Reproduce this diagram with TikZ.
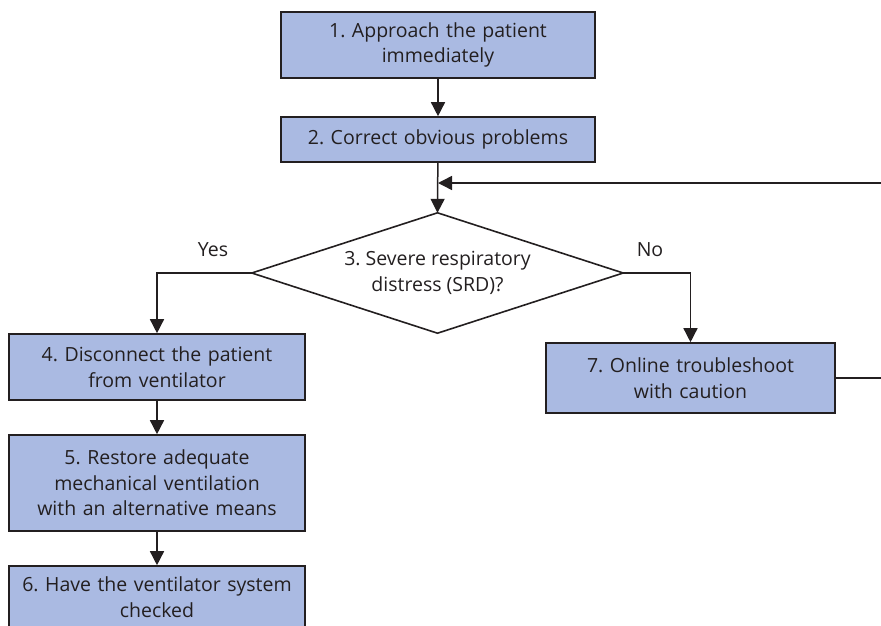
\documentclass[tikz,border=0pt]{standalone}
\usepackage{fontspec}
\setmainfont{Open Sans}
\usetikzlibrary{arrows.meta}
\definecolor{boxfill}{RGB}{170,186,226}
\definecolor{ink}{RGB}{35,31,32}
\frenchspacing
\begin{document}
\begin{tikzpicture}[x=1pt,y=-1pt,
  font=\fontsize{19.5}{25.5}\selectfont\frenchspacing,
  every node/.style={text=ink},
  stepbox/.style={draw=ink, fill=boxfill, line width=1.6pt, align=center, inner sep=0pt},
  conn/.style={draw=ink, line width=1.5pt},
  arr/.style={conn, -{Triangle[length=14pt,width=14pt]}},
  lbl/.style={inner sep=0pt}]
\useasboundingbox (0,0) rectangle (881,626);
\clip (0,0) rectangle (881,626);
\node[stepbox, minimum width=314pt, minimum height=66pt, text width=300pt] (n1) at (438,45) {1. Approach the patient\\immediately};
\node[stepbox, minimum width=314pt, minimum height=45pt, text width=300pt] (n2) at (438,139.5) {2. Correct obvious problems};
\node[inner sep=0pt, minimum width=371pt, minimum height=120pt, align=center] (d) at (437.5,273) {3. Severe respiratory\\distress (SRD)?};
\draw[ink, line width=1.6pt] (d.north) -- (d.east) -- (d.south) -- (d.west) -- cycle;
\node[stepbox, minimum width=296pt, minimum height=66pt, text width=296pt] (n4) at (157,367) {4. Disconnect the patient\\from ventilator};
\node[stepbox, minimum width=296pt, minimum height=96pt, text width=296pt] (n5) at (157,483) {5. Restore adequate\\mechanical ventilation\\with an alternative means};
\node[stepbox, minimum width=296pt, minimum height=62pt, text width=296pt] (n6) at (157,597) {6. Have the ventilator system\\checked};
\node[stepbox, minimum width=289pt, minimum height=70pt, text width=289pt] (n7) at (690.5,378) {7. Online troubleshoot\\with caution};
\node[lbl] (yes) at (213,250) {Yes};
\node[lbl] (no) at (650,250) {No};
\coordinate (j) at (438,183);
\coordinate (r) at (930,183);
\draw[arr] (n1) -- (n2);
\draw[arr] (n2) -- (d.north);
\draw[arr] (d.west) -| (n4.north);
\draw[arr] (d.east) -| (n7.north);
\draw[arr] (n4) -- (n5);
\draw[arr] (n5) -- (n6);
\draw[arr] (n7.east) -| (r) -- (j);
\end{tikzpicture}
\end{document}
